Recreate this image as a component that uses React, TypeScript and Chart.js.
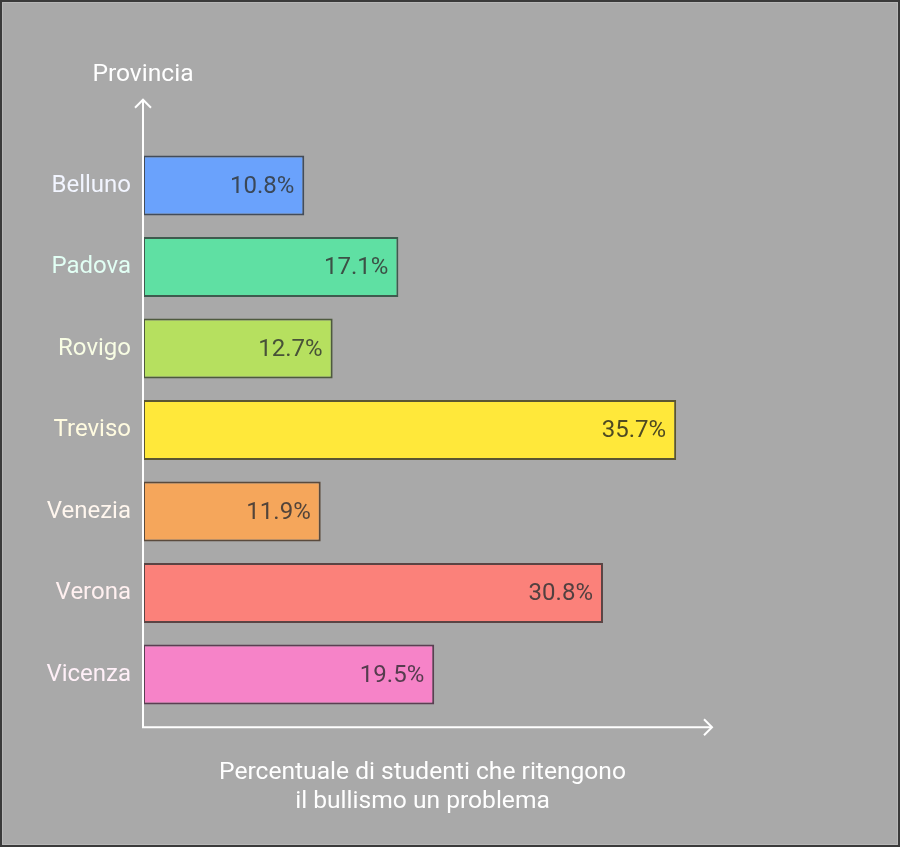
import React, { useEffect, useRef } from "react";
import { Chart, registerables } from "chart.js";

Chart.register(...registerables);

const categories = ["Belluno", "Padova", "Rovigo", "Treviso", "Venezia", "Verona", "Vicenza"];
const values = [10.8, 17.1, 12.7, 35.7, 11.9, 30.8, 19.5];
const barColors = ["#6aa2fc", "#5fe0a3", "#b6e05f", "#ffe83a", "#f5a65b", "#fb817a", "#f683c8"];
const borderColors = ["#434c5a", "#3f5a4e", "#4e5a3e", "#5a5632", "#5a4a3c", "#5a4444", "#5a3f52"];
const valueTextColors = ["#3b4858", "#3c5046", "#485238", "#4e4a22", "#52443a", "#524040", "#553c4e"];
const tickColors = ["#f2f5ff", "#e2fff4", "#f8fde4", "#fffbe0", "#fff6ee", "#fff0f0", "#fff0f8"];
const yTitle = "Provincia";
const xTitle = ["Percentuale di studenti che ritengono", "il bullismo un problema"];
const xMax = 38.1;

const FONT = "Roboto, 'Noto Sans', sans-serif";

const decorPlugin = {
  id: "decor",
  beforeDraw(chart: any) {
    const ctx = chart.ctx;
    const w = chart.width;
    const h = chart.height;
    ctx.save();
    ctx.fillStyle = "#a9a9a9";
    ctx.fillRect(0, 0, w, h);
    ctx.strokeStyle = "#3a3a3a";
    ctx.lineWidth = 2;
    ctx.strokeRect(1, 1, w - 2, h - 2);
    ctx.strokeStyle = "#b8b8b8";
    ctx.lineWidth = 1;
    ctx.strokeRect(2.5, 2.5, w - 5, h - 5);
    ctx.restore();
  },
  afterDatasetsDraw(chart: any) {
    const ctx = chart.ctx;
    const area = chart.chartArea;
    const meta = chart.getDatasetMeta(0);
    ctx.save();
    // value labels
    ctx.font = `24px ${FONT}`;
    ctx.textAlign = "right";
    ctx.textBaseline = "middle";
    meta.data.forEach((bar: any, i: number) => {
      ctx.fillStyle = valueTextColors[i];
      ctx.fillText(`${values[i].toFixed(1)}%`, bar.x - 10, bar.y + 1);
    });
    // axes
    const x0 = area.left;
    const yAxisBottom = area.bottom + 12;
    const yAxisTop = area.top - 45;
    const xAxisRight = area.right;
    ctx.strokeStyle = "#ffffff";
    ctx.lineWidth = 2;
    ctx.lineCap = "butt";
    ctx.beginPath();
    ctx.moveTo(x0, yAxisBottom + 1);
    ctx.lineTo(x0, yAxisTop);
    ctx.moveTo(x0 - 1, yAxisBottom);
    ctx.lineTo(xAxisRight, yAxisBottom);
    ctx.stroke();
    ctx.beginPath();
    ctx.moveTo(x0 - 8, yAxisTop + 8);
    ctx.lineTo(x0, yAxisTop);
    ctx.lineTo(x0 + 8, yAxisTop + 8);
    ctx.moveTo(xAxisRight - 8, yAxisBottom - 8);
    ctx.lineTo(xAxisRight, yAxisBottom);
    ctx.lineTo(xAxisRight - 8, yAxisBottom + 8);
    ctx.stroke();
    // titles
    ctx.fillStyle = "#ffffff";
    ctx.font = `24.6px ${FONT}`;
    ctx.textAlign = "center";
    ctx.textBaseline = "middle";
    ctx.fillText(yTitle, x0, 75);
    const cx = (area.left + area.right) / 2 - 5;
    ctx.fillText(xTitle[0], cx, 773);
    ctx.fillText(xTitle[1], cx, 802);
    ctx.restore();
  },
};

export default function App() {
  const canvasRef = useRef<HTMLCanvasElement>(null);

  useEffect(() => {
    document.body.style.margin = "0";
    const canvas = canvasRef.current;
    if (!canvas) return;
    const chart = new Chart(canvas, {
      type: "bar",
      data: {
        labels: categories,
        datasets: [
          {
            data: values,
            backgroundColor: barColors,
            borderColor: borderColors,
            borderWidth: 2,
            borderSkipped: false,
            barPercentage: 0.735,
            categoryPercentage: 1,
          },
        ],
      },
      options: {
        indexAxis: "y",
        animation: false,
        responsive: true,
        maintainAspectRatio: false,
        layout: { padding: { left: 0, top: 144.75, bottom: 131.75, right: 188 } },
        plugins: {
          legend: { display: false },
          tooltip: { enabled: false },
        },
        scales: {
          x: {
            display: false,
            min: 0,
            max: xMax,
          },
          y: {
            grid: { display: false, drawTicks: false },
            border: { display: false },
            afterFit: (scale: any) => {
              scale.width = 143;
            },
            ticks: {
              padding: 12,
              color: (c: any) => tickColors[c.index] || "#ffffff",
              font: { family: FONT, size: 24 },
            },
          },
        },
      },
      plugins: [decorPlugin],
    });
    return () => chart.destroy();
  }, []);

  return (
    <div style={{ position: "absolute", left: 0, top: 0, width: 900, height: 847 }}>
      <canvas ref={canvasRef} />
    </div>
  );
}
